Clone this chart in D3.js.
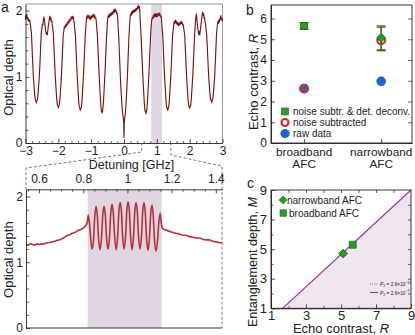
<!DOCTYPE html>
<html><head><meta charset="utf-8">
<script src="https://cdn.jsdelivr.net/npm/d3@7"></script>
<style>
body{margin:0;background:#fff}
svg{display:block}
text{font-family:"Liberation Sans",Arial,Helvetica,sans-serif;fill:#222}
</style></head>
<body><svg id="c" width="415" height="335"></svg>
<script>
// ---------- DATA ----------
const topCurve = [
[-3.00,1.86],[-2.99,1.93],[-2.975,1.88],[-2.96,1.95],[-2.945,1.87],[-2.93,1.9],[-2.915,1.84],[-2.90,1.88],[-2.885,1.83],[-2.87,1.86],[-2.855,1.79],
[-2.84,1.74],[-2.82,1.66],[-2.80,1.44],[-2.78,1.2],[-2.76,1.0],[-2.74,0.86],[-2.72,0.73],[-2.70,0.65],[-2.67,0.61],[-2.64,0.65],[-2.62,0.73],[-2.60,0.86],[-2.58,1.0],[-2.56,1.2],[-2.54,1.44],[-2.52,1.66],
[-2.50,1.74],[-2.485,1.8],[-2.47,1.78],[-2.455,1.86],[-2.44,1.91],[-2.425,1.87],[-2.41,1.8],[-2.395,1.73],[-2.38,1.68],[-2.365,1.64],[-2.35,1.67],[-2.335,1.63],[-2.32,1.7],[-2.305,1.76],[-2.29,1.82],[-2.275,1.87],[-2.26,1.92],[-2.245,1.88],[-2.23,1.9],[-2.215,1.83],[-2.20,1.85],[-2.185,1.78],
[-2.17,1.74],[-2.15,1.64],[-2.13,1.42],[-2.11,1.18],[-2.09,0.98],[-2.07,0.82],[-2.05,0.67],[-2.03,0.58],[-2.0,0.54],[-1.97,0.58],[-1.95,0.67],[-1.93,0.82],[-1.91,0.98],[-1.89,1.18],[-1.87,1.42],[-1.85,1.64],
[-1.83,1.7],[-1.815,1.76],[-1.80,1.73],[-1.785,1.79],[-1.77,1.75],[-1.755,1.8],[-1.74,1.77],[-1.725,1.83],[-1.71,1.79],[-1.695,1.84],[-1.68,1.81],[-1.665,1.87],[-1.65,1.83],[-1.635,1.88],[-1.62,1.85],[-1.605,1.91],[-1.59,1.87],[-1.575,1.92],[-1.56,1.88],[-1.545,1.91],[-1.53,1.84],[-1.515,1.8],
[-1.50,1.72],[-1.48,1.63],[-1.46,1.41],[-1.44,1.17],[-1.42,0.97],[-1.40,0.8],[-1.38,0.63],[-1.36,0.54],[-1.33,0.5],[-1.30,0.54],[-1.28,0.63],[-1.26,0.8],[-1.24,0.97],[-1.22,1.17],[-1.20,1.41],[-1.18,1.63],
[-1.16,1.78],[-1.145,1.87],[-1.13,1.92],[-1.115,1.88],[-1.10,1.94],[-1.085,1.89],[-1.07,1.93],[-1.055,1.87],[-1.04,1.91],[-1.025,1.86],[-1.01,1.9],[-0.995,1.88],[-0.98,1.93],[-0.965,1.89],[-0.95,1.94],[-0.935,1.9],[-0.92,1.95],[-0.905,1.91],[-0.89,1.93],[-0.875,1.88],[-0.86,1.9],[-0.845,1.84],
[-0.83,1.74],[-0.81,1.62],[-0.79,1.4],[-0.77,1.15],[-0.75,0.95],[-0.73,0.77],[-0.71,0.59],[-0.69,0.49],[-0.67,0.45],[-0.65,0.49],[-0.63,0.59],[-0.61,0.77],[-0.59,0.95],[-0.57,1.15],[-0.55,1.4],[-0.53,1.62],
[-0.51,1.8],[-0.495,1.88],[-0.48,1.93],[-0.465,1.89],[-0.45,1.95],[-0.435,1.9],[-0.42,1.96],[-0.405,1.92],[-0.39,1.97],[-0.375,1.93],[-0.36,1.98],[-0.345,1.94],[-0.33,2.0],[-0.315,1.96],[-0.30,2.02],[-0.285,1.97],[-0.27,2.03],[-0.255,1.98],[-0.24,2.01],[-0.225,1.95],[-0.21,1.97],[-0.195,1.9],
[-0.18,1.76],[-0.16,1.6],[-0.14,1.36],[-0.12,1.1],[-0.10,0.88],[-0.08,0.7],[-0.06,0.55],[-0.045,0.46],[-0.03,0.4],[-0.018,0.36],[-0.008,0.3],[-0.003,0.15],[0,0.08],[0.004,0.16],[0.01,0.32],[0.02,0.37],[0.033,0.42],[0.05,0.5],[0.07,0.66],[0.09,0.86],[0.11,1.08],[0.13,1.35],[0.15,1.6],[0.17,1.78],
[0.185,1.88],[0.2,1.95],[0.215,1.92],[0.23,1.98],[0.245,1.94],[0.26,2.0],[0.275,1.96],[0.29,2.01],[0.305,1.97],[0.32,2.02],[0.335,1.98],[0.35,2.03],[0.365,1.99],[0.38,2.04],[0.395,2.01],[0.41,2.06],[0.425,2.03],[0.44,2.08],[0.455,2.05],[0.47,2.07],[0.485,1.96],
[0.50,1.78],[0.52,1.62],[0.54,1.4],[0.56,1.15],[0.58,0.95],[0.60,0.77],[0.62,0.59],[0.64,0.49],[0.67,0.45],[0.69,0.49],[0.71,0.59],[0.73,0.77],[0.75,0.95],[0.77,1.15],[0.79,1.4],[0.81,1.62],
[0.83,1.78],[0.845,1.86],[0.86,1.9],[0.875,1.87],[0.89,1.93],[0.905,1.89],[0.92,1.95],[0.935,1.91],[0.95,1.96],[0.965,1.92],[0.98,1.94],[0.995,1.9],[1.01,1.95],[1.025,1.91],[1.04,1.96],[1.055,1.93],[1.07,1.97],[1.085,1.92],[1.10,1.95],[1.115,1.9],[1.13,1.92],[1.145,1.85],
[1.16,1.74],[1.18,1.63],[1.20,1.41],[1.22,1.17],[1.24,0.97],[1.26,0.8],[1.28,0.63],[1.30,0.54],[1.33,0.5],[1.36,0.54],[1.38,0.63],[1.40,0.8],[1.42,0.97],[1.44,1.17],[1.46,1.41],[1.48,1.63],
[1.50,1.72],[1.515,1.79],[1.53,1.84],[1.545,1.8],[1.56,1.86],[1.575,1.81],[1.59,1.85],[1.605,1.79],[1.62,1.83],[1.635,1.78],[1.65,1.82],[1.665,1.77],[1.68,1.81],[1.695,1.78],[1.71,1.83],[1.725,1.79],[1.74,1.84],[1.755,1.8],[1.77,1.83],[1.785,1.78],[1.80,1.8],[1.815,1.74],
[1.83,1.7],[1.85,1.62],[1.87,1.41],[1.89,1.17],[1.91,0.97],[1.93,0.82],[1.95,0.66],[1.97,0.57],[2.0,0.53],[2.03,0.57],[2.05,0.66],[2.07,0.82],[2.09,0.97],[2.11,1.17],[2.13,1.41],[2.15,1.64],
[2.17,1.78],[2.185,1.88],[2.20,1.95],[2.215,1.9],[2.23,1.82],[2.245,1.74],[2.26,1.69],[2.275,1.65],[2.29,1.67],[2.305,1.63],[2.32,1.68],[2.335,1.74],[2.35,1.81],[2.365,1.87],[2.38,1.93],[2.395,1.98],[2.41,1.94],[2.425,1.96],[2.44,1.88],[2.455,1.9],[2.47,1.82],[2.485,1.8],
[2.50,1.72],[2.52,1.62],[2.54,1.42],[2.56,1.2],[2.58,1.0],[2.60,0.86],[2.62,0.73],[2.64,0.66],[2.67,0.62],[2.70,0.66],[2.72,0.73],[2.74,0.86],[2.76,1.0],[2.78,1.2],[2.80,1.44],[2.82,1.66],
[2.84,1.76],[2.855,1.84],[2.87,1.8],[2.885,1.86],[2.90,1.82],[2.915,1.88],[2.93,1.85],[2.945,1.93],[2.96,1.87],[2.975,1.9],[2.99,1.84],[3.0,1.87]
];
const zoomCurve = [
[0.541,1.27],[0.55,1.26],[0.56,1.28],[0.57,1.27],[0.58,1.26],[0.59,1.28],[0.60,1.27],[0.61,1.28],[0.62,1.28],[0.63,1.29],[0.64,1.3],[0.65,1.3],[0.66,1.31],[0.67,1.32],[0.68,1.33],[0.69,1.34],[0.70,1.35],[0.71,1.37],[0.72,1.39],[0.73,1.41],[0.74,1.42],[0.75,1.44],[0.76,1.45],[0.77,1.47],[0.78,1.49],[0.79,1.5],[0.80,1.52],[0.81,1.55],[0.818,1.6],
[0.823,1.72],[0.829,1.57],[0.834,1.36],[0.840,1.2],[0.847,1.36],[0.852,1.68],[0.858,1.85],[0.864,1.7],[0.869,1.38],[0.876,1.19],[0.883,1.38],[0.888,1.7],[0.894,1.85],[0.900,1.72],[0.905,1.39],[0.912,1.2],[0.919,1.39],[0.924,1.72],[0.930,1.88],[0.936,1.75],[0.942,1.4],[0.949,1.19],[0.956,1.4],[0.961,1.75],[0.967,1.91],[0.973,1.77],[0.978,1.41],[0.985,1.2],[0.992,1.41],[0.997,1.77],
[1.003,1.92],[1.009,1.77],[1.014,1.41],[1.021,1.19],[1.028,1.41],[1.033,1.76],[1.039,1.91],[1.045,1.76],[1.050,1.41],[1.057,1.2],[1.064,1.41],[1.069,1.76],[1.075,1.91],[1.081,1.74],[1.086,1.39],[1.093,1.18],[1.100,1.39],[1.105,1.72],[1.111,1.87],[1.117,1.7],[1.122,1.36],[1.130,1.17],[1.137,1.36],[1.142,1.6],[1.148,1.75],
[1.153,1.6],[1.158,1.52],[1.165,1.5],[1.175,1.49],[1.19,1.47],[1.2,1.46],[1.21,1.45],[1.22,1.44],[1.235,1.43],[1.25,1.41],[1.265,1.41],[1.28,1.39],[1.295,1.38],[1.31,1.37],[1.325,1.37],[1.34,1.35],[1.355,1.34],[1.37,1.34],[1.385,1.32],[1.40,1.31],[1.415,1.3],[1.428,1.29]
];
const topXTicks = [-3,-2,-1,0,1,2,3];
const odTicks = [0,1,2];
const zoomXTicks = [0.6,0.8,1,1.2,1.4];
const shadeBand = [0.83,1.157];
const zoomDomain = [0.541,1.428];

const afcCategories = ["broadband","narrowband"];
const catPos = [1,2];
const deconvR = [5.64,5.07], deconvLo = [5.48,4.45], deconvHi = [5.8,5.64];
const noiseSubR = [2.62,4.95], noiseSubLo = [2.62,4.5], noiseSubHi = [2.62,5.57];
const rawR = [2.62,2.97];
const contrastTicks = [0,1,2,3,4,5,6];

const depthNarrow = [5.12,4.7];
const depthBroad = [5.67,5.3];
const boundLine = [[1.66,1],[9,9]];
const cTicks = [1,3,5,7,9];

// ---------- DRAW ----------
const svg = d3.select("#c");
const RED_DARK = "#7a1414", RED = "#b23236", SHADE = "#e0d5e3";
const GREEN = "#2b9a2b", GREEN_D = "#1d6e1d", RING = "#d22c2c", BLUE = "#1f66cc", PURPLE = "#9a2f9e";
const fmt = d3.format("");
const diamondPath = d3.symbol(d3.symbolSquare,40)();

function styleAxis(g, fs){
  g.selectAll(".domain").attr("stroke","#222").attr("stroke-width",0.9);
  g.selectAll(".tick line").attr("stroke","#222").attr("stroke-width",0.8);
  g.selectAll("text").attr("font-size",fs||12).attr("fill","#222").attr("font-family",'"Liberation Sans",Arial,sans-serif');
}
function minorAxis(axisFn, scale, vals, len, tr){
  const g = svg.append("g").attr("transform",tr).call(axisFn(scale).tickValues(vals).tickFormat("").tickSizeInner(-len).tickSizeOuter(0));
  g.select(".domain").remove();
  g.selectAll(".tick line").attr("stroke","#222").attr("stroke-width",0.7);
}
function range(a,b,s){const r=[];for(let v=a;v<=b+1e-9;v+=s)r.push(+v.toFixed(4));return r;}

// ===== Panel a top =====
const xA = d3.scaleLinear().domain([-3,3]).range([25.5,222.5]);
const yA = d3.scaleLinear().domain([0,2.1]).range([143,4]);
svg.append("rect").attr("x",xA(shadeBand[0])).attr("y",yA(2.1)).attr("width",xA(shadeBand[1])-xA(shadeBand[0])).attr("height",yA(0)-yA(2.1)).attr("fill",SHADE);
svg.append("line").attr("x1",xA(-3)).attr("x2",xA(3)).attr("y1",yA(2.1)).attr("y2",yA(2.1)).attr("stroke","#999").attr("stroke-width",1);
svg.append("line").attr("x1",xA(3)).attr("x2",xA(3)).attr("y1",yA(2.1)).attr("y2",yA(0)).attr("stroke","#999").attr("stroke-width",1);
svg.append("path").datum(topCurve).attr("fill","none").attr("stroke",RED_DARK).attr("stroke-width",1.15)
  .attr("d",d3.line().x(d=>xA(d[0])).y(d=>yA(d[1])));
minorAxis(d3.axisBottom, xA, range(-3,3,0.2).filter(v=>Math.abs(v-Math.round(v))>1e-6), 2, `translate(0,${yA(0)})`);
minorAxis(d3.axisLeft, yA, range(0,2,0.2).filter(v=>Math.abs(v-Math.round(v))>1e-6), 3, `translate(${xA(-3)},0)`);
let g = svg.append("g").attr("transform",`translate(0,${yA(0)})`).call(d3.axisBottom(xA).tickValues(topXTicks).tickFormat(fmt).tickSizeInner(-4).tickSizeOuter(0).tickPadding(3));
styleAxis(g);
g = svg.append("g").attr("transform",`translate(${xA(-3)},0)`).call(d3.axisLeft(yA).tickValues(odTicks).tickFormat(fmt).tickSizeInner(-4).tickSizeOuter(0).tickPadding(3));
styleAxis(g);
svg.append("text").attr("x",1).attr("y",12).attr("font-size",14).text("a");
svg.append("text").attr("transform",`translate(13,${(yA(0)+yA(2.1))/2+4}) rotate(-90)`).attr("text-anchor","middle").attr("font-size",13).text("Optical depth");
svg.append("text").attr("x",131.5).attr("y",169).attr("text-anchor","middle").attr("font-size",12.5).text("Detuning [GHz]");

// ===== Panel a bottom =====
const xZ = d3.scaleLinear().domain(zoomDomain).range([26,222]);
const yZ = d3.scaleLinear().domain([0,2.11]).range([328,189.3]);
const dash = d3.line();
svg.append("path").attr("d",dash([[xA(zoomDomain[0]),yA(0)],[xA(zoomDomain[0]),152],[xZ(zoomDomain[0]),168],[xZ(zoomDomain[0]),yZ(2.11)]]))
  .attr("fill","none").attr("stroke","#555").attr("stroke-width",0.8).attr("stroke-dasharray","3,2");
svg.append("path").attr("d",dash([[xA(zoomDomain[1]),yA(0)],[xA(zoomDomain[1]),155],[xZ(zoomDomain[1]),166],[xZ(zoomDomain[1]),yZ(0)]]))
  .attr("fill","none").attr("stroke","#555").attr("stroke-width",0.8).attr("stroke-dasharray","3,2");
svg.append("rect").attr("x",xZ(0.82)).attr("y",yZ(2.11)).attr("width",xZ(1.155)-xZ(0.82)).attr("height",yZ(0)-yZ(2.11)).attr("fill",SHADE);
svg.append("path").datum(zoomCurve).attr("fill","none").attr("stroke",RED).attr("stroke-width",1.6)
  .attr("d",d3.line().curve(d3.curveMonotoneX).x(d=>xZ(d[0])).y(d=>yZ(d[1])));
minorAxis(d3.axisTop, xZ, range(0.55,1.4,0.05).filter(v=>Math.abs(v*5-Math.round(v*5))>1e-6), 2.5, `translate(0,${yZ(2.11)})`);
minorAxis(d3.axisLeft, yZ, range(0,2,0.2).filter(v=>Math.abs(v-Math.round(v))>1e-6), 3, `translate(${xZ(zoomDomain[0])},0)`);
g = svg.append("g").attr("transform",`translate(0,${yZ(2.11)})`).call(d3.axisTop(xZ).tickValues(zoomXTicks).tickFormat(fmt).tickSizeInner(-4).tickSizeOuter(0).tickPadding(6));
styleAxis(g);
g = svg.append("g").attr("transform",`translate(${xZ(zoomDomain[0])},0)`).call(d3.axisLeft(yZ).tickValues(odTicks).tickFormat(fmt).tickSizeInner(-4).tickSizeOuter(0).tickPadding(3));
styleAxis(g);
svg.append("line").attr("x1",xZ(zoomDomain[0])).attr("x2",xZ(zoomDomain[1])).attr("y1",yZ(0)).attr("y2",yZ(0)).attr("stroke","#222").attr("stroke-width",0.9);
svg.append("text").attr("transform",`translate(13,${(yZ(0)+yZ(2.11))/2+1}) rotate(-90)`).attr("text-anchor","middle").attr("font-size",13).text("Optical depth");

// ===== Panel b =====
const xB = d3.scaleLinear().domain([0.57,2.4]).range([271,412]);
const yB = d3.scaleLinear().domain([0,6.65]).range([143,5]);
svg.append("rect").attr("x",xB(0.57)).attr("y",yB(6.65)).attr("width",xB(2.4)-xB(0.57)).attr("height",yB(0)-yB(6.65)).attr("fill","none").attr("stroke","#222").attr("stroke-width",0.9);
g = svg.append("g").attr("transform",`translate(${xB(0.57)},0)`).call(d3.axisLeft(yB).tickValues(contrastTicks).tickFormat(fmt).tickSizeInner(-4).tickSizeOuter(0).tickPadding(4));
styleAxis(g);
minorAxis(d3.axisRight, yB, contrastTicks, 4, `translate(${xB(2.4)},0)`);
g = svg.append("g").attr("transform",`translate(0,${yB(0)})`).call(d3.axisBottom(xB).tickValues(catPos).tickFormat("").tickSizeInner(-4).tickSizeOuter(0));
styleAxis(g);
catPos.forEach((c,i)=>{
  svg.append("text").attr("x",xB(c)).attr("y",yB(0)+13).attr("text-anchor","middle").attr("font-size",11.8).text(afcCategories[i]);
  svg.append("text").attr("x",xB(c)).attr("y",yB(0)+25).attr("text-anchor","middle").attr("font-size",11.8).text("AFC");
});
const tb = svg.append("text").attr("transform",`translate(258,${(yB(0)+yB(6.65))/2+8}) rotate(-90)`).attr("text-anchor","middle").attr("font-size",13);
tb.append("tspan").text("Echo contrast, ");
tb.append("tspan").attr("font-style","italic").text("R");
svg.append("text").attr("x",246).attr("y",15).attr("font-size",14).text("b");

function errBar(x,lo,hi,color,w){
  svg.append("line").attr("x1",x).attr("x2",x).attr("y1",yB(lo)).attr("y2",yB(hi)).attr("stroke",color).attr("stroke-width",1.3);
  [lo,hi].forEach(v=>svg.append("line").attr("x1",x-w).attr("x2",x+w).attr("y1",yB(v)).attr("y2",yB(v)).attr("stroke",color).attr("stroke-width",1.3));
}
catPos.forEach((c,i)=>svg.append("circle").attr("cx",xB(c)).attr("cy",yB(rawR[i])).attr("r",4.8).attr("fill",BLUE));
catPos.forEach((c,i)=>{
  if(noiseSubHi[i]-noiseSubLo[i]>0.05) errBar(xB(c),noiseSubLo[i],noiseSubHi[i],"#d0575a",4.5);
  svg.append("circle").attr("cx",xB(c)).attr("cy",yB(noiseSubR[i])).attr("r",3.8).attr("fill","none").attr("stroke",RING).attr("stroke-width",2.2);
});
catPos.forEach((c,i)=>{
  errBar(xB(c),deconvLo[i],deconvHi[i],GREEN_D,4.5);
  const p = svg.append("path").attr("fill",GREEN).attr("stroke",GREEN_D).attr("stroke-width",0.8);
  if(i===0) p.attr("d",d3.symbol(d3.symbolSquare,48)()).attr("transform",`translate(${xB(c)},${yB(deconvR[i])})`);
  else p.attr("d",diamondPath).attr("transform",`translate(${xB(c)},${yB(deconvR[i])}) rotate(45)`);
});
const lgB = [["sq","noise subtr. & det. deconv."],["ring","noise subtracted"],["disk","raw data"]];
lgB.forEach((d,i)=>{
  const y = 111.5 + i*11;
  if(d[0]==="sq") svg.append("rect").attr("x",281.5).attr("y",y-3.5).attr("width",7).attr("height",7).attr("fill",GREEN).attr("stroke",GREEN_D).attr("stroke-width",0.6);
  if(d[0]==="ring") svg.append("circle").attr("cx",285).attr("cy",y).attr("r",3.5).attr("fill","#fff").attr("stroke",RING).attr("stroke-width",2.2);
  if(d[0]==="disk") svg.append("circle").attr("cx",285).attr("cy",y).attr("r",4.6).attr("fill",BLUE);
  svg.append("text").attr("x",293).attr("y",y+3.6).attr("font-size",10).text(d[1]);
});

// ===== Panel c =====
const xC = d3.scaleLinear().domain([1,9]).range([271,411]);
const yC = d3.scaleLinear().domain([1,9]).range([308.3,190]);
svg.append("path").datum([[boundLine[0][0],1],[boundLine[1][0],boundLine[1][1]],[9,1]]).attr("fill","#eee5ef")
  .attr("d",d3.line().x(d=>xC(d[0])).y(d=>yC(d[1])));
svg.append("path").datum(boundLine).attr("fill","none").attr("stroke","#888").attr("stroke-width",1).attr("stroke-dasharray","1,1.5")
  .attr("d",d3.line().x(d=>xC(d[0])).y(d=>yC(d[1])));
svg.append("path").datum(boundLine).attr("fill","none").attr("stroke",PURPLE).attr("stroke-width",1.1)
  .attr("d",d3.line().x(d=>xC(d[0])).y(d=>yC(d[1])));
svg.append("rect").attr("x",xC(1)).attr("y",yC(9)).attr("width",xC(9)-xC(1)).attr("height",yC(1)-yC(9)).attr("fill","none").attr("stroke","#222").attr("stroke-width",0.9);
g = svg.append("g").attr("transform",`translate(${xC(1)},0)`).call(d3.axisLeft(yC).tickValues(cTicks).tickFormat(fmt).tickSizeInner(-4).tickSizeOuter(0).tickPadding(4));
styleAxis(g,13);
g = svg.append("g").attr("transform",`translate(0,${yC(1)})`).call(d3.axisBottom(xC).tickValues(cTicks).tickFormat(fmt).tickSizeInner(-4).tickSizeOuter(0).tickPadding(2));
styleAxis(g,13);
minorAxis(d3.axisLeft, yC, [2,4,6,8], 2.5, `translate(${xC(1)},0)`);
minorAxis(d3.axisBottom, xC, [2,4,6,8], 2.5, `translate(0,${yC(1)})`);
minorAxis(d3.axisRight, yC, [2,3,4,5,6,7,8], 3, `translate(${xC(9)},0)`);
minorAxis(d3.axisTop, xC, [2,3,4,5,6,7,8], 3, `translate(0,${yC(9)})`);
svg.append("path").attr("d",diamondPath).attr("transform",`translate(${xC(depthNarrow[0])},${yC(depthNarrow[1])}) rotate(45)`).attr("fill",GREEN).attr("stroke",GREEN_D).attr("stroke-width",0.8);
svg.append("path").attr("d",d3.symbol(d3.symbolSquare,48)()).attr("transform",`translate(${xC(depthBroad[0])},${yC(depthBroad[1])})`).attr("fill",GREEN).attr("stroke",GREEN_D).attr("stroke-width",0.8);
svg.append("text").attr("x",247).attr("y",188).attr("font-size",14).text("c");
const tcy = svg.append("text").attr("transform",`translate(257,262) rotate(-90)`).attr("text-anchor","middle").attr("font-size",12.6);
tcy.append("tspan").text("Entanglement depth, ");
tcy.append("tspan").attr("font-style","italic").text("M");
const tcx = svg.append("text").attr("x",(xC(1)+xC(9))/2).attr("y",333).attr("text-anchor","middle").attr("font-size",13);
tcx.append("tspan").text("Echo contrast, ");
tcx.append("tspan").attr("font-style","italic").text("R");
svg.append("path").attr("d",d3.symbol(d3.symbolSquare,32)()).attr("transform","translate(283,200) rotate(45)").attr("fill",GREEN).attr("stroke",GREEN_D).attr("stroke-width",0.6);
svg.append("text").attr("x",287).attr("y",203.6).attr("font-size",10).text("narrowband AFC");
svg.append("rect").attr("x",280).attr("y",209.8).attr("width",6.5).attr("height",6.5).attr("fill",GREEN).attr("stroke",GREEN_D).attr("stroke-width",0.6);
svg.append("text").attr("x",289).attr("y",216.8).attr("font-size",10).text("broadband AFC");
function pLabel(y, exp, dotted){
  svg.append("line").attr("x1",370).attr("x2",378).attr("y1",y).attr("y2",y).attr("stroke",dotted?"#777":PURPLE).attr("stroke-width",dotted?1:1.1).attr("stroke-dasharray",dotted?"1,1.2":null);
  const t = svg.append("text").attr("x",380).attr("y",y+2).attr("font-size",4.8);
  t.append("tspan").attr("font-style","italic").text("P");
  t.append("tspan").attr("font-size",3.6).attr("dy",1.2).text("2");
  t.append("tspan").attr("dy",-1.2).text(" = 2.6\u00d710");
  t.append("tspan").attr("font-size",3.6).attr("dy",-2.2).text("\u2212"+exp);
}
pLabel(284, "11", true);
pLabel(292.5, "7", false);
</script></body></html>
